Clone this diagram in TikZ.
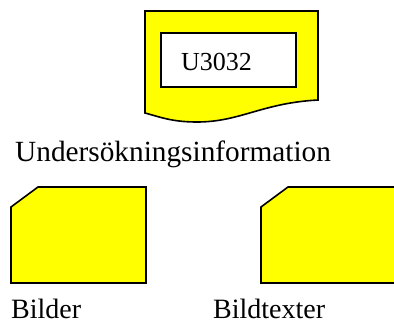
\documentclass[tikz,border=0pt]{standalone}
\usepackage{fontspec}
\setmainfont{Liberation Serif}
\definecolor{boxyellow}{RGB}{255,255,0}
\tikzset{
  shapeline/.style={draw=black, line width=1.6pt, line join=miter, fill=boxyellow},
  caption/.style={anchor=base west, inner sep=0pt, font=\fontsize{28}{30}\selectfont},
  idtext/.style={anchor=base west, inner sep=0pt, font=\fontsize{26}{28}\selectfont}
}
\begin{document}
\begin{tikzpicture}[x=1pt, y=-1pt]
  \useasboundingbox (0,0) rectangle (394,324);
  \clip (0,0) rectangle (394,324);

  % document symbol with wavy lower edge
  \path[shapeline] (145,11) -- (318,11) -- (318,100)
    .. controls (262,103) and (240,122) .. (197,122)
    .. controls (172,122) and (160,117) .. (145,113) -- cycle;
  \draw[line width=1.6pt, fill=white] (161,33) rectangle (296,87);
  \node[idtext] (id) at (181,70) {U3032};
  \node[caption, font=\fontsize{29.3}{31}\selectfont] (info) at (15,161) {Undersökningsinformation};

  % cards with a clipped top-left corner
  \path[shapeline] (11,207) -- (38,187) -- (146,187) -- (146,283) -- (11,283) -- cycle;
  \node[caption, text depth=0pt] (bilder) at (11,318) {Bilder};

  \path[shapeline] (261,207) -- (288,187) -- (400,187) -- (400,283) -- (261,283) -- cycle;
  \node[caption, text depth=0pt] (texter) at (213,318) {Bildtexter};
\end{tikzpicture}
\end{document}
